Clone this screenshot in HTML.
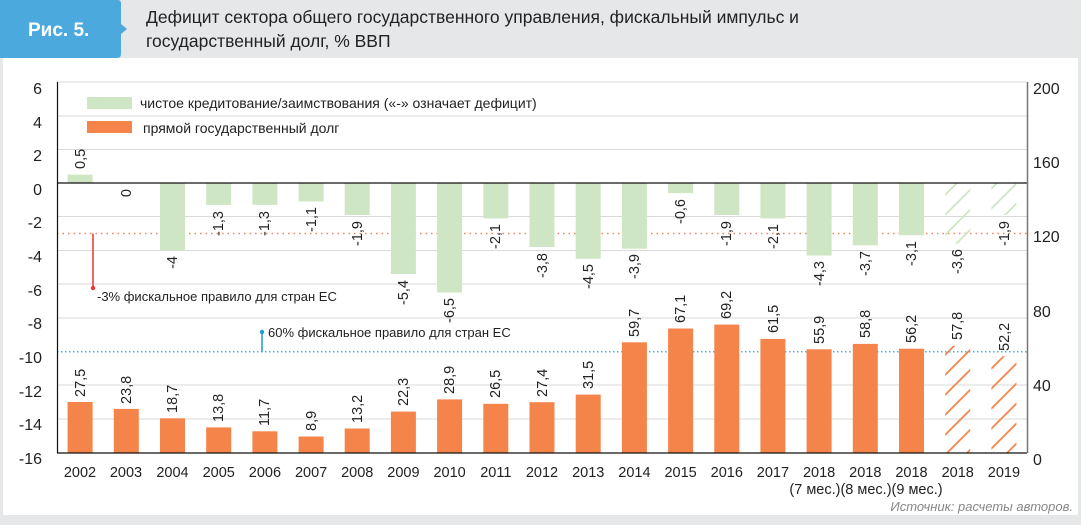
<!DOCTYPE html>
<html><head><meta charset="utf-8"><style>
body{margin:0;width:1081px;height:520px;overflow:hidden;background:#e6e7e9;font-family:"Liberation Sans",sans-serif}
</style></head><body>
<svg width="1081" height="520" xmlns="http://www.w3.org/2000/svg" font-family="Liberation Sans, sans-serif">
<defs>
<pattern id="ho" patternUnits="userSpaceOnUse" width="20" height="20"><line x1="0" y1="20" x2="20" y2="0" stroke="#f4844a" stroke-width="1.8"/><line x1="-2" y1="2" x2="2" y2="-2" stroke="#f4844a" stroke-width="1.8"/><line x1="18" y1="22" x2="22" y2="18" stroke="#f4844a" stroke-width="1.8"/></pattern>
<pattern id="hg" patternUnits="userSpaceOnUse" width="20" height="20"><line x1="0" y1="20" x2="20" y2="0" stroke="#cfe6c4" stroke-width="1.8"/><line x1="-2" y1="2" x2="2" y2="-2" stroke="#cfe6c4" stroke-width="1.8"/><line x1="18" y1="22" x2="22" y2="18" stroke="#cfe6c4" stroke-width="1.8"/></pattern>
</defs>
<rect x="0" y="0" width="1081" height="520" fill="#e6e7e9"/>
<rect x="3" y="58" width="1075" height="457" fill="#fff"/>
<path d="M0 0H118Q121 0 121 4V24L127 29L121 34V54Q121 58 117 58H0Z" fill="#4ba9dd"/>
<text x="28" y="36" font-size="19" font-weight="bold" fill="#fff">Рис. 5.</text>
<text x="146" y="23" font-size="17.5" fill="#222">Дефицит сектора общего государственного управления, фискальный импульс и</text>
<text x="146" y="47" font-size="17.5" fill="#222">государственный долг, % ВВП</text>
<g stroke="#d9d9d9" stroke-width="1">
<line x1="57" y1="82" x2="1027" y2="82"/><line x1="57" y1="116" x2="1027" y2="116"/><line x1="57" y1="149.5" x2="1027" y2="149.5"/>
<line x1="57" y1="216.5" x2="1027" y2="216.5"/><line x1="57" y1="250.5" x2="1027" y2="250.5"/><line x1="57" y1="284" x2="1027" y2="284"/>
<line x1="57" y1="318" x2="1027" y2="318"/><line x1="57" y1="385" x2="1027" y2="385"/><line x1="57" y1="419" x2="1027" y2="419"/>
</g>
<line x1="57" y1="233.5" x2="1027" y2="233.5" stroke="#f4845a" stroke-width="1.5" stroke-dasharray="1.5,4"/>
<line x1="57" y1="351.7" x2="1027" y2="351.7" stroke="#4ab0e0" stroke-width="1.5" stroke-dasharray="1.5,2.5"/>
<g fill="#cfe6c4">
<rect x="67.6" y="174.6" width="25" height="8.4"/>
<rect x="160" y="183" width="25" height="67.4"/>
<rect x="206.2" y="183" width="25" height="21.9"/>
<rect x="252.4" y="183" width="25" height="21.9"/>
<rect x="298.6" y="183" width="25" height="18.5"/>
<rect x="344.7" y="183" width="25" height="32"/>
<rect x="390.9" y="183" width="25" height="91"/>
<rect x="437.1" y="183" width="25" height="109.5"/>
<rect x="483.3" y="183" width="25" height="35.4"/>
<rect x="529.5" y="183" width="25" height="64"/>
<rect x="575.7" y="183" width="25" height="75.8"/>
<rect x="621.9" y="183" width="25" height="65.7"/>
<rect x="668.1" y="183" width="25" height="10.1"/>
<rect x="714.3" y="183" width="25" height="32"/>
<rect x="760.4" y="183" width="25" height="35.4"/>
<rect x="806.6" y="183" width="25" height="72.5"/>
<rect x="852.8" y="183" width="25" height="62.3"/>
<rect x="899" y="183" width="25" height="52.2"/>
</g>
<rect x="945.2" y="183" width="25" height="60.7" fill="url(#hg)"/>
<rect x="991.4" y="183" width="25" height="32" fill="url(#hg)"/>
<g fill="#f4844a">
<rect x="67.6" y="402" width="25" height="51"/>
<rect x="113.8" y="408.9" width="25" height="44.1"/>
<rect x="160" y="418.3" width="25" height="34.7"/>
<rect x="206.2" y="427.4" width="25" height="25.6"/>
<rect x="252.4" y="431.3" width="25" height="21.7"/>
<rect x="298.6" y="436.5" width="25" height="16.5"/>
<rect x="344.7" y="428.5" width="25" height="24.5"/>
<rect x="390.9" y="411.6" width="25" height="41.4"/>
<rect x="437.1" y="399.4" width="25" height="53.6"/>
<rect x="483.3" y="403.8" width="25" height="49.2"/>
<rect x="529.5" y="402.2" width="25" height="50.8"/>
<rect x="575.7" y="394.6" width="25" height="58.4"/>
<rect x="621.9" y="342.3" width="25" height="110.7"/>
<rect x="668.1" y="328.5" width="25" height="124.5"/>
<rect x="714.3" y="324.6" width="25" height="128.4"/>
<rect x="760.4" y="338.9" width="25" height="114.1"/>
<rect x="806.6" y="349.3" width="25" height="103.7"/>
<rect x="852.8" y="343.9" width="25" height="109.1"/>
<rect x="899" y="348.7" width="25" height="104.3"/>
</g>
<rect x="945.2" y="345.8" width="25" height="107.2" fill="url(#ho)"/>
<rect x="991.4" y="356.2" width="25" height="96.8" fill="url(#ho)"/>
<line x1="57" y1="183" x2="1027" y2="183" stroke="#111" stroke-width="1.2"/>
<line x1="57" y1="453" x2="1027" y2="453" stroke="#111" stroke-width="1.2"/>
<line x1="57.5" y1="82" x2="57.5" y2="453" stroke="#111" stroke-width="1.2"/>
<line x1="1027.5" y1="82" x2="1027.5" y2="453" stroke="#777" stroke-width="1.5"/>
<g font-size="16" fill="#222" text-anchor="end">
<text x="42" y="94">6</text><text x="42" y="128">4</text><text x="42" y="161">2</text><text x="42" y="195">0</text>
<text x="42" y="228">-2</text><text x="42" y="262">-4</text><text x="42" y="296">-6</text><text x="42" y="329">-8</text>
<text x="42" y="363">-10</text><text x="42" y="397">-12</text><text x="42" y="430">-14</text><text x="42" y="464">-16</text>
</g>
<g font-size="16" fill="#222">
<text x="1033" y="94">200</text><text x="1033" y="168">160</text><text x="1033" y="242">120</text>
<text x="1033" y="317">80</text><text x="1033" y="391">40</text><text x="1033" y="465">0</text>
</g>
<rect x="87" y="97" width="45" height="12" fill="#cfe6c4"/>
<text x="140" y="108" font-size="14" fill="#222">чистое кредитование/заимствования («-» означает дефицит)</text>
<rect x="87" y="121" width="45" height="12" fill="#f4844a"/>
<text x="143" y="133" font-size="14" fill="#222">прямой государственный долг</text>
<line x1="93" y1="233.5" x2="93" y2="288" stroke="#e33" stroke-width="1.5"/><circle cx="93" cy="288" r="2.2" fill="#e33"/>
<text x="97" y="301" font-size="13" fill="#222">-3% фискальное правило для стран ЕС</text>
<line x1="262" y1="351.7" x2="262" y2="332" stroke="#1a9ad6" stroke-width="1.5"/><circle cx="262" cy="332" r="2.2" fill="#1a9ad6"/>
<text x="268" y="337" font-size="13" fill="#222">60% фискальное правило для стран ЕС</text>
<g font-size="14.5" fill="#222">
<g text-anchor="start">
<text transform="translate(85,169) rotate(-90)">0,5</text>
</g>
<g text-anchor="end">
<text transform="translate(131,189) rotate(-90)">0</text>
<text transform="translate(177,256) rotate(-90)">-4</text>
<text transform="translate(223,211) rotate(-90)">-1,3</text>
<text transform="translate(269,211) rotate(-90)">-1,3</text>
<text transform="translate(316,207) rotate(-90)">-1,1</text>
<text transform="translate(362,221) rotate(-90)">-1,9</text>
<text transform="translate(408,280) rotate(-90)">-5,4</text>
<text transform="translate(454,298) rotate(-90)">-6,5</text>
<text transform="translate(500,224) rotate(-90)">-2,1</text>
<text transform="translate(547,253) rotate(-90)">-3,8</text>
<text transform="translate(593,264) rotate(-90)">-4,5</text>
<text transform="translate(639,254) rotate(-90)">-3,9</text>
<text transform="translate(685,199) rotate(-90)">-0,6</text>
<text transform="translate(731,221) rotate(-90)">-1,9</text>
<text transform="translate(778,224) rotate(-90)">-2,1</text>
<text transform="translate(824,261) rotate(-90)">-4,3</text>
<text transform="translate(870,251) rotate(-90)">-3,7</text>
<text transform="translate(916,241) rotate(-90)">-3,1</text>
<text transform="translate(962,249) rotate(-90)">-3,6</text>
<text transform="translate(1009,221) rotate(-90)">-1,9</text>
</g>
<g text-anchor="start">
<text transform="translate(85,397) rotate(-90)">27,5</text>
<text transform="translate(131,404) rotate(-90)">23,8</text>
<text transform="translate(177,413) rotate(-90)">18,7</text>
<text transform="translate(223,422) rotate(-90)">13,8</text>
<text transform="translate(269,426) rotate(-90)">11,7</text>
<text transform="translate(316,431) rotate(-90)">8,9</text>
<text transform="translate(362,423) rotate(-90)">13,2</text>
<text transform="translate(408,406) rotate(-90)">22,3</text>
<text transform="translate(454,394) rotate(-90)">28,9</text>
<text transform="translate(500,398) rotate(-90)">26,5</text>
<text transform="translate(547,397) rotate(-90)">27,4</text>
<text transform="translate(593,389) rotate(-90)">31,5</text>
<text transform="translate(639,337) rotate(-90)">59,7</text>
<text transform="translate(685,323) rotate(-90)">67,1</text>
<text transform="translate(731,319) rotate(-90)">69,2</text>
<text transform="translate(778,333) rotate(-90)">61,5</text>
<text transform="translate(824,344) rotate(-90)">55,9</text>
<text transform="translate(870,338) rotate(-90)">58,8</text>
<text transform="translate(916,343) rotate(-90)">56,2</text>
<text transform="translate(962,340) rotate(-90)">57,8</text>
<text transform="translate(1009,351) rotate(-90)">52,2</text>
</g>
</g>
<g font-size="14.5" fill="#222" text-anchor="middle">
<text x="80" y="477">2002</text><text x="126" y="477">2003</text><text x="172.5" y="477">2004</text><text x="218.7" y="477">2005</text>
<text x="264.9" y="477">2006</text><text x="311.1" y="477">2007</text><text x="357.2" y="477">2008</text><text x="403.4" y="477">2009</text>
<text x="449.6" y="477">2010</text><text x="495.8" y="477">2011</text><text x="542" y="477">2012</text><text x="588.2" y="477">2013</text>
<text x="634.4" y="477">2014</text><text x="680.6" y="477">2015</text><text x="726.8" y="477">2016</text><text x="772.9" y="477">2017</text>
<text x="819.1" y="477">2018</text><text x="865.3" y="477">2018</text><text x="911.5" y="477">2018</text><text x="957.7" y="477">2018</text>
<text x="1003.9" y="477">2019</text>
<text x="866" y="494">(7 мес.)(8 мес.)(9 мес.)</text>
</g>
<text x="1073" y="511" font-size="13" font-style="italic" fill="#888" text-anchor="end">Источник: расчеты авторов.</text>
</svg>
</body></html>
